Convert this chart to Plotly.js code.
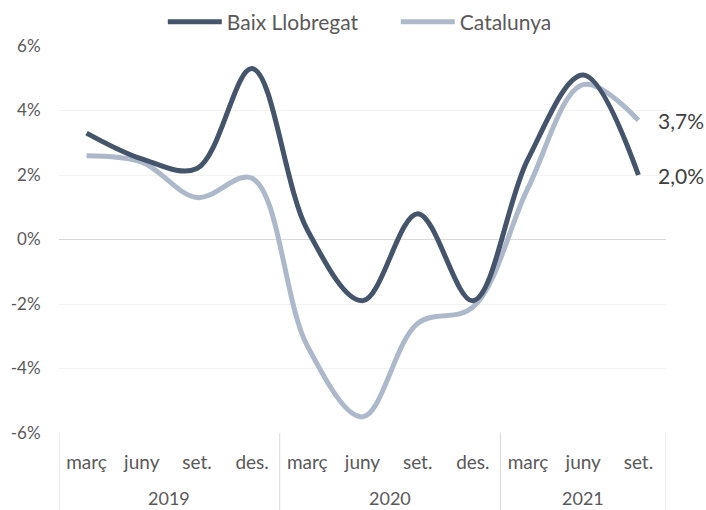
<!DOCTYPE html>
<html>
<head>
<meta charset="utf-8">
<script src="https://cdn.plot.ly/plotly-3.0.1.min.js"></script>
<style>html,body{margin:0;padding:0;background:#fff;}#chart{width:706px;height:510px;}</style>
</head>
<body>
<div id="chart"></div>
<script>
const years = ['2019','2019','2019','2019','2020','2020','2020','2020','2021','2021','2021'];
const months = ['març','juny','set.','des.','març','juny','set.','des.','març','juny','set.'];
const baixLlobregat = [3.3, 2.5, 2.2, 5.3, 0.3, -1.9, 0.8, -1.9, 2.5, 5.1, 2.0];
const catalunya = [2.6, 2.4, 1.3, 1.9, -3.3, -5.5, -2.6, -2.1, 1.6, 4.8, 3.7];
const yTickVals = [-6, -4, -2, 0, 2, 4, 6];
const yTickText = ['-6%', '-4%', '-2%', '0%', '2%', '4%', '6%'];
const seriesNames = ['Baix Llobregat', 'Catalunya'];
const colors = ['#44546A', '#ADB9CA'];

const fmt = v => v.toFixed(1).replace('.', ',') + '%';
const font = 'Lato, Carlito, Calibri, sans-serif';
const idx = months.map((_, i) => i);

const series = [baixLlobregat, catalunya];
// draw Catalunya first so Baix sits on top; legend keeps Baix first
const traces = [1, 0].map(k => ({
  type: 'scatter', mode: 'lines',
  x: idx, y: series[k],
  name: seriesNames[k], legendrank: k + 1,
  line: {color: colors[k], width: 5, shape: 'spline', smoothing: 1},
  hoverinfo: 'skip'
}));

const last = idx.length - 1;
const annotations = series.map(vals => ({
  xref: 'x', yref: 'y', x: last, y: vals[last],
  text: fmt(vals[last]), showarrow: false, xanchor: 'left', yanchor: 'middle',
  xshift: 18, font: {family: font, size: 21, color: '#404040'}
}));

// year groups
const groups = [];
years.forEach((yr, i) => {
  if (!groups.length || groups[groups.length - 1].yr !== yr) groups.push({yr, start: i, end: i});
  else groups[groups.length - 1].end = i;
});
groups.forEach(g => annotations.push({
  xref: 'x', yref: 'paper', x: (g.start + g.end) / 2, y: 0,
  text: g.yr, showarrow: false, xanchor: 'center', yanchor: 'middle', yshift: -65,
  font: {family: font, size: 18, color: '#595959'}
}));
const boundaries = [groups[0].start - 0.5].concat(groups.map(g => g.end + 0.5));
const shapes = boundaries.map(b => ({
  type: 'line', xref: 'x', yref: 'paper', x0: b, x1: b, y0: 0, y1: -0.2,
  line: {color: '#D9D9D9', width: 1}
}));

const layout = {
  width: 706, height: 510,
  margin: {l: 59, r: 40, t: 46, b: 77, autoexpand: false},
  paper_bgcolor: '#fff', plot_bgcolor: '#fff',
  font: {family: font, color: '#595959'},
  showlegend: true,
  legend: {orientation: 'h', x: 0.171, xanchor: 'left', y: 1.062, yanchor: 'middle',
    font: {size: 21, color: '#595959'}, traceorder: 'normal',
    itemwidth: 54, entrywidth: 164, entrywidthmode: 'pixels'},
  xaxis: {
    range: [-0.5, last + 0.5], tickvals: idx, ticktext: months,
    showgrid: false, zeroline: false, showline: false,
    ticks: 'outside', ticklen: 12, tickcolor: 'rgba(0,0,0,0)',
    tickfont: {size: 19, color: '#595959'}, fixedrange: true
  },
  yaxis: {
    range: [-6, 6], tickvals: yTickVals, ticktext: yTickText,
    showgrid: true, gridcolor: '#F2F2F2', gridwidth: 1,
    zeroline: true, zerolinecolor: '#D9D9D9', zerolinewidth: 1.5,
    showline: false, ticks: 'outside', ticklen: 14, tickcolor: 'rgba(0,0,0,0)',
    tickfont: {size: 17, color: '#595959'}, fixedrange: true
  },
  annotations: annotations,
  shapes: shapes
};

Plotly.newPlot('chart', traces, layout, {displayModeBar: false, staticPlot: true});
</script>
</body>
</html>
